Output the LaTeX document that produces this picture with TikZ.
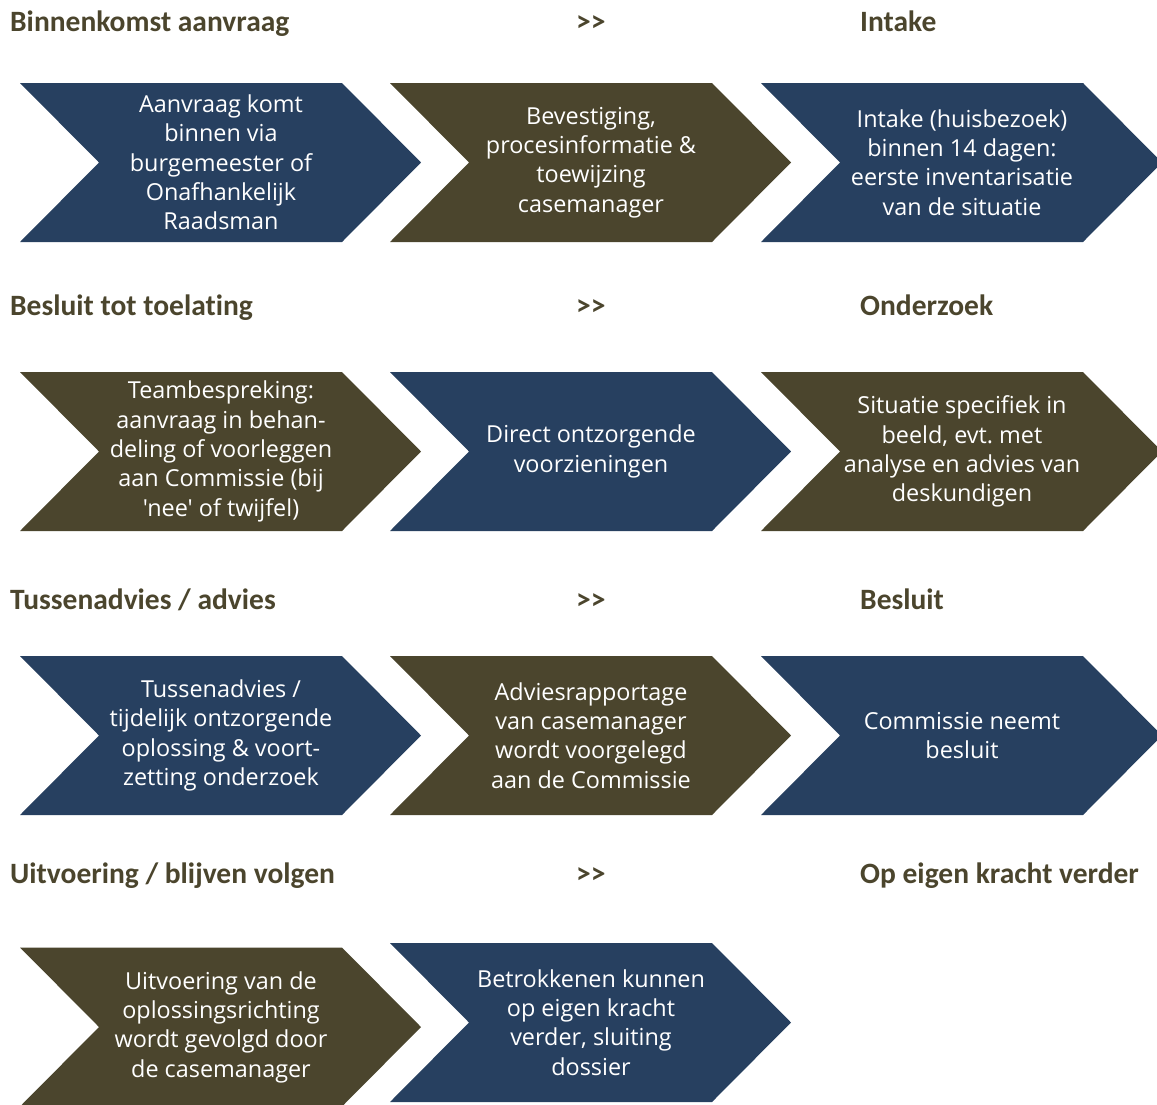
\documentclass[tikz,border=0pt]{standalone}
\usepackage{fontspec}
\newfontfamily\headfont[Ligatures=NoCommon]{Carlito}
\newfontfamily\bodyfont[Ligatures=NoCommon]{Open Sans}
\definecolor{cblue}{HTML}{274060}
\definecolor{colive}{HTML}{4B452D}
\frenchspacing
\tikzset{
  chtext/.style={text=white, align=center, font=\bodyfont\fontsize{23.4}{29.3}\selectfont, inner sep=0pt},
  header/.style={text=colive, anchor=base west, font=\headfont\bfseries\fontsize{29.5}{32}\selectfont, inner sep=0pt},
}
\newcommand\chev[5]{%
  \fill[#4] (#2,#3-79.5) -- (#2+322,#3-79.5) -- (#2+401,#3) -- (#2+322,#3+79.5) -- (#2,#3+79.5) -- (#2+79,#3) -- cycle;
  \node[chtext] (#1) at (#2+201,#3) {#5};}
\begin{document}
\begin{tikzpicture}[x=1pt,y=-1pt]
\useasboundingbox (0,0) rectangle (1157,1104);
% headers
\node[header] (h1a) at (10,31) {Binnenkomst aanvraag};
\node[header] (h1b) at (576,31) {>>};
\node[header] (h1c) at (860,31) {Intake};
\node[header] (h2a) at (10,315) {Besluit tot toelating};
\node[header] (h2b) at (576,315) {>>};
\node[header] (h2c) at (860,315) {Onderzoek};
\node[header] (h3a) at (10,609) {Tussenadvies / advies};
\node[header] (h3b) at (576,609) {>>};
\node[header] (h3c) at (860,609) {Besluit};
\node[header] (h4a) at (10,883) {Uitvoering / blijven volgen};
\node[header] (h4b) at (576,883) {>>};
\node[header] (h4c) at (860,883) {Op eigen kracht verder};
% row 1
\chev{c11}{20}{162.5}{cblue}{Aanvraag komt\\binnen via\\burgemeester of\\Onafhankelijk\\Raadsman}
\chev{c12}{390}{162.5}{colive}{Bevestiging,\\procesinformatie \&\\toewijzing\\casemanager}
\chev{c13}{761}{162.5}{cblue}{Intake (huisbezoek)\\binnen 14 dagen:\\eerste inventarisatie\\van de situatie}
% row 2
\chev{c21}{20}{451.5}{colive}{Teambespreking:\\aanvraag in behan-\\deling of voorleggen\\aan Commissie (bij\\'nee' of twijfel)}
\chev{c22}{390}{451.5}{cblue}{Direct ontzorgende\\voorzieningen}
\chev{c23}{761}{451.5}{colive}{Situatie specifiek in\\beeld, evt. met\\analyse en advies van\\deskundigen}
% row 3
\chev{c31}{20}{735.5}{cblue}{Tussenadvies /\\tijdelijk ontzorgende\\oplossing \& voort-\\zetting onderzoek}
\chev{c32}{390}{735.5}{colive}{Adviesrapportage\\van casemanager\\wordt voorgelegd\\aan de Commissie}
\chev{c33}{761}{735.5}{cblue}{Commissie neemt\\besluit}
% row 4
\chev{c41}{20}{1027}{colive}{Uitvoering van de\\oplossingsrichting\\wordt gevolgd door\\de casemanager}
\chev{c42}{390}{1022.5}{cblue}{Betrokkenen kunnen\\op eigen kracht\\verder, sluiting\\dossier}
\end{tikzpicture}
\end{document}
